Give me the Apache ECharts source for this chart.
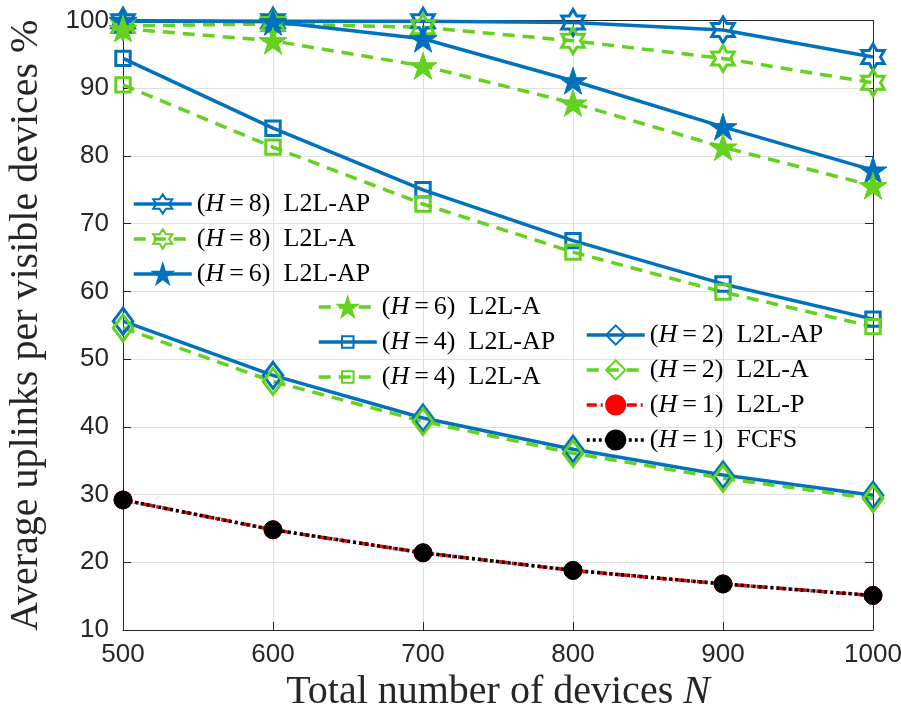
<!DOCTYPE html>
<html>
<head>
<meta charset="utf-8">
<script src="https://cdn.jsdelivr.net/npm/echarts@6/dist/echarts.min.js"></script>
<style>
  html, body { margin: 0; padding: 0; background: #fff; }
  #chart { width: 901px; height: 715px; }
</style>
</head>
<body>
<div id="chart"></div>
<script>
// total number of devices N
var devices = [500, 600, 700, 800, 900, 1000];

// average uplinks per visible devices (%)
var h8AP = [99.9, 99.9, 99.9, 99.7, 98.6, 94.6];
var h8A  = [99.2, 99.5, 99.0, 97.0, 94.4, 90.8];
var h6AP = [100, 99.8, 97.3, 91.1, 84.3, 77.9];
var h6A  = [98.8, 97.0, 93.3, 87.8, 81.3, 75.6];
var h4AP = [94.4, 84.1, 75.0, 67.5, 61.1, 55.9];
var h4A  = [90.5, 81.3, 72.9, 65.8, 59.9, 54.8];
var h2AP = [55.6, 47.6, 41.3, 36.7, 32.9, 29.9];
var h2A  = [54.6, 46.7, 40.8, 36.1, 32.4, 29.4];
var h1P  = [29.2, 24.8, 21.4, 18.8, 16.8, 15.1];
var fcfs = [29.2, 24.8, 21.4, 18.8, 16.8, 15.1];

var BLUE = '#0072bd';
var GREEN = '#63d11e';
var SERIF = '"Liberation Serif", "Times New Roman", serif';
var SANS = '"Liberation Sans", Arial, Helvetica, sans-serif';

var HEXAGRAM = 'path://M0,-100 L28.87,-50 L86.6,-50 L57.7,0 L86.6,50 L28.87,50 L0,100 L-28.87,50 L-86.6,50 L-57.7,0 L-86.6,-50 L-28.87,-50 Z';
var PENTAGRAM = 'path://M0,-100 L22.45,-30.9 L95.1,-30.9 L36.3,11.8 L58.8,80.9 L0,38.2 L-58.8,80.9 L-36.3,11.8 L-95.1,-30.9 L-22.45,-30.9 Z';
// square padded with bare moveTo points so it stays small in the legend
var SQUARE = 'path://M-10,-10 M10,10 M-6,-6 L6,-6 L6,6 L-6,6 Z';
var DIAMOND = 'path://M0,-12 L9,0 L0,12 L-9,0 Z';

function pairs(ys) {
  return devices.map(function (x, i) { return [x, ys[i]]; });
}

function mkSeries(name, ys, color, dash, symbol, size, filled) {
  return {
    name: name,
    type: 'line',
    data: pairs(ys),
    symbol: symbol,
    symbolSize: size,
    symbolKeepAspect: true,
    showSymbol: true,
    showAllSymbol: true,
    clip: false,
    lineStyle: { color: color, width: 3.5, type: dash },
    itemStyle: {
      color: filled ? color : 'rgba(255,255,255,0)',
      borderColor: color,
      borderWidth: filled ? 1 : 3
    },
    emphasis: { disabled: true }
  };
}

var names = [
  '(H=8) L2L-AP', '(H=8) L2L-A', '(H=6) L2L-AP', '(H=6) L2L-A',
  '(H=4) L2L-AP', '(H=4) L2L-A', '(H=2) L2L-AP', '(H=2) L2L-A',
  '(H=1) L2L-P', '(H=1) FCFS'
];

var series = [
  mkSeries(names[0], h8AP, BLUE, 'solid', HEXAGRAM, 26, false),
  mkSeries(names[1], h8A, GREEN, [12, 8], HEXAGRAM, 26, false),
  mkSeries(names[2], h6AP, BLUE, 'solid', PENTAGRAM, 28, true),
  mkSeries(names[3], h6A, GREEN, [12, 8], PENTAGRAM, 28, true),
  mkSeries(names[4], h4AP, BLUE, 'solid', SQUARE, 24, false),
  mkSeries(names[5], h4A, GREEN, [12, 8], SQUARE, 24, false),
  mkSeries(names[6], h2AP, BLUE, 'solid', DIAMOND, 26, false),
  mkSeries(names[7], h2A, GREEN, [12, 8], DIAMOND, 26, false),
  mkSeries(names[8], h1P, '#ff0000', [10, 4, 2, 4], 'circle', 18, true),
  mkSeries(names[9], fcfs, '#000000', [3, 3], 'circle', 18, true)
];

var legendRich = {
  p: { fontFamily: SERIF, fontSize: 26, color: '#000' },
  i: { fontFamily: SERIF, fontSize: 26, fontStyle: 'italic', color: '#000' },
  e: { fontFamily: SERIF, fontSize: 26, color: '#000', padding: [0, 5] }
};

function legendFmt(n) {
  // "(H=8) L2L-AP" -> italic H, spaced "="
  var m = n.match(/^\(H=(\d)\) (.*)$/);
  return '{p|(}{i|H}{e|=}{p|' + m[1] + ')  ' + m[2] + '}';
}

function mkLegend(data, left, top) {
  return {
    data: data,
    orient: 'vertical',
    left: left,
    top: top,
    padding: 0,
    itemWidth: 58,
    itemHeight: 24,
    itemGap: 9,
    backgroundColor: 'transparent',
    selectedMode: false,
    formatter: legendFmt,
    lineStyle: { width: 3.5 },
    textStyle: { fontFamily: SERIF, fontSize: 26, lineHeight: 24, color: '#000', rich: legendRich }
  };
}

var chart = echarts.init(document.getElementById('chart'), null, { renderer: 'canvas' });
chart.setOption({
  animation: false,
  backgroundColor: '#fff',
  grid: { left: 123, right: 28, top: 20.5, bottom: 85, containLabel: false, outerBoundsMode: 'none' },
  legend: [
    mkLegend(names.slice(0, 3), 132, 191),
    mkLegend(names.slice(3, 6), 317, 294),
    mkLegend(names.slice(6, 10), 585, 322)
  ],
  xAxis: [{
    type: 'value',
    min: 500, max: 1000, interval: 100,
    name: 'Total number of devices {n|N}',
    nameLocation: 'middle',
    nameGap: 40,
    nameTextStyle: {
      fontFamily: SERIF, fontSize: 40, color: '#262626',
      rich: { n: { fontFamily: SERIF, fontSize: 40, fontStyle: 'italic', color: '#262626' } }
    },
    axisLine: { show: true, onZero: false, lineStyle: { color: '#262626', width: 1 } },
    axisTick: { show: true, inside: true, length: 8, lineStyle: { color: '#262626' } },
    axisLabel: {
      margin: 12, fontFamily: SANS, fontSize: 26, color: '#262626',
      formatter: function (v) { return String(v); }
    },
    splitLine: { show: true, lineStyle: { color: '#dfdfdf', width: 1 } }
  }, {
    type: 'value',
    position: 'top',
    min: 500, max: 1000, interval: 100,
    axisLine: { show: true, onZero: false, lineStyle: { color: '#262626', width: 1 } },
    axisTick: { show: true, inside: true, length: 8, lineStyle: { color: '#262626' } },
    axisLabel: { show: false },
    splitLine: { show: false }
  }],
  yAxis: [{
    type: 'value',
    min: 10, max: 100, interval: 10,
    name: 'Average uplinks per visible devices %',
    nameLocation: 'middle',
    nameGap: 77,
    nameTextStyle: { fontFamily: SERIF, fontSize: 40, color: '#262626' },
    axisLine: { show: true, onZero: false, lineStyle: { color: '#262626', width: 1 } },
    axisTick: { show: true, inside: true, length: 8, lineStyle: { color: '#262626' } },
    axisLabel: { margin: 14, fontFamily: SANS, fontSize: 26, color: '#262626' },
    splitLine: { show: true, lineStyle: { color: '#dfdfdf', width: 1 } }
  }, {
    type: 'value',
    position: 'right',
    min: 10, max: 100, interval: 10,
    axisLine: { show: true, onZero: false, lineStyle: { color: '#262626', width: 1 } },
    axisTick: { show: true, inside: true, length: 8, lineStyle: { color: '#262626' } },
    axisLabel: { show: false },
    splitLine: { show: false }
  }],
  series: series
});
</script>
</body>
</html>
